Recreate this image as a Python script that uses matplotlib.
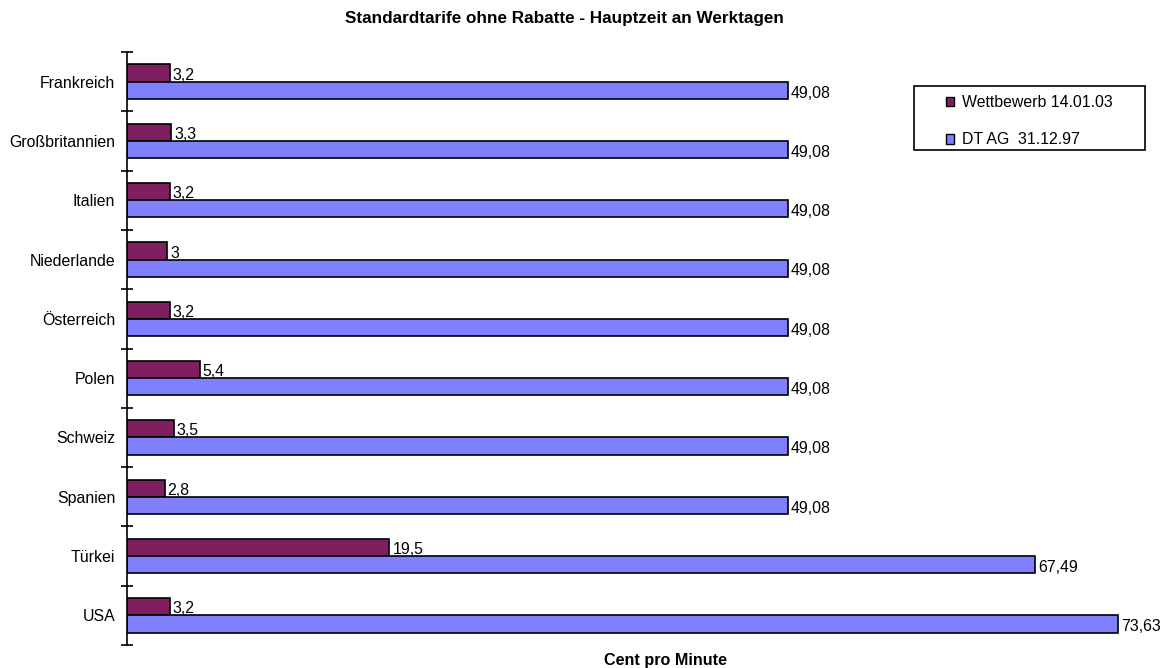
import matplotlib
matplotlib.use("Agg")
import matplotlib.pyplot as plt
from matplotlib.patches import Patch, Rectangle
import numpy as np

categories = ["Frankreich", "Großbritannien", "Italien", "Niederlande", "Österreich",
              "Polen", "Schweiz", "Spanien", "Türkei", "USA"]
wettbewerb = [3.2, 3.3, 3.2, 3.0, 3.2, 5.4, 3.5, 2.8, 19.5, 3.2]
dtag = [49.08, 49.08, 49.08, 49.08, 49.08, 49.08, 49.08, 49.08, 67.49, 73.63]
series_names = ["Wettbewerb 14.01.03", "DT AG  31.12.97"]
title = "Standardtarife ohne Rabatte - Hauptzeit an Werktagen"
xlabel = "Cent pro Minute"

plt.rcParams['font.family'] = ['Liberation Sans', 'DejaVu Sans']

c1 = "#7F1F5F"
c2 = "#8080FF"
fs = 11.4

fig = plt.figure(figsize=(11.69, 6.68), dpi=100)
ax = fig.add_axes([127/1169, 1-645/668, (1150-127)/1169, (645-52)/668])

y = np.arange(len(categories))
h = 0.29
ax.barh(y - h/2, wettbewerb, height=h, color=c1, edgecolor="black", linewidth=1.2)
ax.barh(y + h/2, dtag, height=h, color=c2, edgecolor="black", linewidth=1.2)

def fmt(v):
    return f"{v:g}".replace(".", ",")

for yi, v in zip(y, wettbewerb):
    ax.annotate(fmt(v), (v, yi - h/2), xytext=(2, -1.5), textcoords="offset points",
                va="center", ha="left", fontsize=fs)
for yi, v in zip(y, dtag):
    ax.annotate(fmt(v), (v, yi + h/2), xytext=(2, -2), textcoords="offset points",
                va="center", ha="left", fontsize=fs)

ax.set_xlim(0, 76)
ax.set_ylim(len(categories) - 0.5, -0.5)
ax.set_yticks(np.arange(-0.5, len(categories), 1.0))
ax.set_yticklabels([])
ax.tick_params(axis="y", which="major", direction="inout", length=8, width=1.2)
ax.set_yticks(y, minor=True)
ax.set_yticklabels(categories, minor=True, fontsize=fs)
ax.tick_params(axis="y", which="minor", length=0, pad=8.5)
ax.set_xticks([])
for s in ["top", "right", "bottom"]:
    ax.spines[s].set_visible(False)
ax.spines["left"].set_linewidth(1.2)

fig.text(564/1169, 1-19/668, title, ha="center", va="center", fontsize=12.3, fontweight="bold")
fig.text(666/1169, 1-660/668, xlabel, ha="center", va="center", fontsize=11.6, fontweight="bold")

# legend frame
fig.patches.append(Rectangle((914/1169, 1-150/668), 231/1169, 64/668,
                             transform=fig.transFigure, facecolor="white",
                             edgecolor="black", linewidth=1.2, zorder=2))
handles = [Patch(facecolor=c1, edgecolor="black"), Patch(facecolor=c2, edgecolor="black")]
leg = fig.legend(handles, series_names, loc="upper left",
                 bbox_to_anchor=(946/1169, 1-95/668), bbox_transform=fig.transFigure,
                 fontsize=fs, handlelength=0.5, handleheight=0.55, handletextpad=0.5,
                 labelspacing=1.42, borderpad=0, borderaxespad=0, frameon=False)
leg.set_zorder(3)

fig.savefig("out.png", dpi=100)
